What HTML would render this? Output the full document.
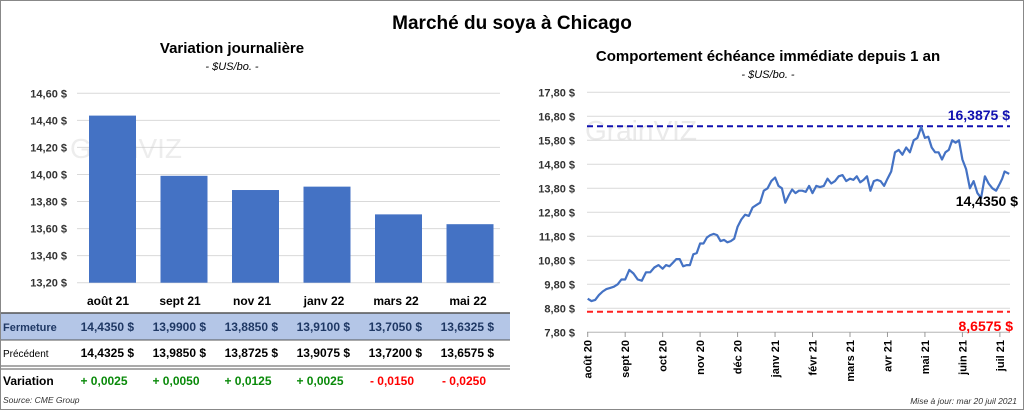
<!DOCTYPE html>
<html><head><meta charset="utf-8"><style>
body{margin:0;width:1024px;height:410px;overflow:hidden;background:#fff;font-family:"Liberation Sans",sans-serif;}
#frame{position:absolute;left:0;top:0;width:1022px;height:408px;border:1px solid #888;}
svg{position:absolute;left:0;top:0}
</style></head><body>
<div id="frame"></div>
<svg id="s" width="1024" height="410"></svg>
<script>
const barCats=["août 21","sept 21","nov 21","janv 22","mars 22","mai 22"];
const closeVals=[14.4350,13.9900,13.8850,13.9100,13.7050,13.6325];
const prevVals=[14.4325,13.9850,13.8725,13.9075,13.7200,13.6575];
const varVals=[0.0025,0.0050,0.0125,0.0025,-0.0150,-0.0250];
const barTicks=[13.2,13.4,13.6,13.8,14.0,14.2,14.4,14.6];
const monthLabels=["août 20","sept 20","oct 20","nov 20","déc 20","janv 21","févr 21","mars 21","avr 21","mai 21","juin 21","juil 21"];
const lineTicks=[7.8,8.8,9.8,10.8,11.8,12.8,13.8,14.8,15.8,16.8,17.8];
const monthlyPrices=[
[9.2,9.1,9.15,9.35,9.5,9.6,9.65,9.7,9.8,10.0],
[10.0,10.4,10.25,10.0,9.95,10.3,10.3,10.5,10.6],
[10.45,10.6,10.55,10.7,10.85,10.85,10.55,10.6,10.6,11.05,11.1],
[11.5,11.5,11.75,11.85,11.9,11.85,11.6,11.65,11.55,11.6,11.7],
[12.2,12.5,12.7,12.65,13.0,13.1,13.2,13.7,13.8,14.1],
[14.25,13.9,13.8,13.2,13.5,13.75,13.6,13.7,13.7,13.65,13.9],
[13.6,13.9,13.85,13.9,14.2,14.0,14.1,14.3,14.35,14.1],
[14.2,14.15,14.3,14.05,14.15,14.3,13.7,14.1,14.15,14.1,13.9],
[14.2,14.5,15.3,15.4,15.2,15.5,15.3,15.8,15.9,16.35],
[15.9,15.95,15.5,15.3,15.3,15.0,15.3,15.4,15.8,15.7,15.8],
[15.0,14.6,13.8,14.1,13.6,13.4,14.3,14.0,13.8,13.7],
[14.0,14.2,14.5,14.45,14.4]];
const monthCoverage=[1,1,1,1,1,1,1,1,1,1,1,0.25];
const highVal=16.3875, lowVal=8.6575, lastVal=14.4350;

const S=document.getElementById('s'),NS="http://www.w3.org/2000/svg";
function el(t,a,txt){const e=document.createElementNS(NS,t);for(const k in a)e.setAttribute(k,a[k]);if(txt!==undefined)e.textContent=txt;S.appendChild(e);return e;}
const fr=v=>v.toFixed(2).replace('.',',')+' $';
const f4=v=>v.toFixed(4).replace('.',',');

let e;
e=el('text',{x:512,y:29,'text-anchor':'middle','font-size':19,'font-weight':'bold'},'Marché du soya à Chicago');


e=el('text',{x:232,y:53,'text-anchor':'middle','font-size':15,'font-weight':'bold'},'Variation  journalière');


e=el('text',{x:232,y:70,'text-anchor':'middle','font-size':11,'font-style':'italic'},'- $US/bo. -');


e=el('text',{x:768,y:61,'text-anchor':'middle','font-size':15,'font-weight':'bold'},'Comportement  échéance immédiate depuis 1 an');


e=el('text',{x:768,y:78,'text-anchor':'middle','font-size':11,'font-style':'italic'},'- $US/bo. -');



// left bar chart
const by=v=>282.7-(v-13.2)*135.3;
const bx=i=>112.5+i*71.5;
barTicks.forEach(t=>{
 e=el('line',{x1:77,x2:500,y1:by(t),y2:by(t),stroke:'#d9d9d9'});
 
 
 e=el('text',{x:67,y:by(t)+4,'text-anchor':'end','font-size':11,'font-weight':'bold',fill:'#333'},fr(t));
 
 
});
e=el('text',{x:70,y:158,'font-size':28,fill:'#ccc','opacity':0.35},'GrainVIZ');


closeVals.forEach((v,i)=>{
 e=el('rect',{x:bx(i)-23.5,y:by(v),width:47,height:by(13.2)-by(v),fill:'#4472c4'});
 
 
});
// table
e=el('rect',{x:1,y:313,width:509,height:27,fill:'#b4c6e7'});


el('line',{x1:1,x2:510,y1:313,y2:313,stroke:'#555','stroke-width':1.5});
el('line',{x1:1,x2:510,y1:340,y2:340,stroke:'#555','stroke-width':1});
el('line',{x1:1,x2:510,y1:366,y2:366,stroke:'#555','stroke-width':1});
el('line',{x1:1,x2:510,y1:369,y2:369,stroke:'#555','stroke-width':1});
const tx=i=>108+i*72;
barCats.forEach((c,i)=>{
 e=el('text',{x:tx(i),y:305,'text-anchor':'middle','font-size':12,'font-weight':'bold'},c);
 
 
 e=el('text',{x:tx(i)+26,y:331,'text-anchor':'end','font-size':12,'font-weight':'bold',fill:'#1f3864'},f4(closeVals[i])+'  $');
 
 
 e=el('text',{x:tx(i)+26,y:357,'text-anchor':'end','font-size':12,'font-weight':'bold'},f4(prevVals[i])+'  $');
 
 
 const v=varVals[i];
 e=el('text',{x:tx(i)-4,y:385,'text-anchor':'middle','font-size':12,'font-weight':'bold',fill:v>=0?'#0a8a0a':'#ff0000'},(v>=0?'+ ':'- ')+f4(Math.abs(v)));
 
 
});
e=el('text',{x:3,y:331,'font-size':11,'font-weight':'bold',fill:'#1f3864'},'Fermeture');


e=el('text',{x:3,y:357,'font-size':10},'Précédent');


e=el('text',{x:3,y:385,'font-size':12,'font-weight':'bold'},'Variation');


e=el('text',{x:3,y:403,'font-size':8.5,'font-style':'italic',fill:'#333'},'Source: CME Group');



// right line chart
const ly=v=>332.3-(v-7.8)*24;
const mx=m=>587.7+m*37.47;
lineTicks.forEach(t=>{
 e=el('line',{x1:587,x2:1010,y1:ly(t),y2:ly(t),stroke:'#d9d9d9'});
 
 
 e=el('text',{x:575,y:ly(t)+4,'text-anchor':'end','font-size':11,'font-weight':'bold',fill:'#333'},fr(t));
 
 
});
el('line',{x1:587,x2:1010,y1:332.3,y2:332.3,stroke:'#bbb'});
e=el('text',{x:585,y:140,'font-size':28,fill:'#ccc','opacity':0.4},'GrainVIZ');


monthLabels.forEach((m,i)=>{
 el('line',{x1:mx(i),x2:mx(i),y1:332,y2:337,stroke:'#999'});
 e=el('text',{x:0,y:0,'text-anchor':'end','font-size':11,'font-weight':'bold',transform:`translate(${mx(i)+4},340) rotate(-90)`},m);
 
 
});
e=el('line',{x1:587,x2:1010,y1:ly(highVal),y2:ly(highVal),stroke:'#1010b0','stroke-width':2,'stroke-dasharray':'6,4'});


e=el('line',{x1:587,x2:1010,y1:ly(lowVal),y2:ly(lowVal),stroke:'#ff2020','stroke-width':2,'stroke-dasharray':'6,4'});


let pts=[];
monthlyPrices.forEach((arr,m)=>arr.forEach((v,j)=>{
 const last=m===monthlyPrices.length-1;
 const frac=last?j/(arr.length-1):j/arr.length;
 pts.push(mx(m+frac*monthCoverage[m]).toFixed(1)+','+ly(v).toFixed(1));
}));
e=el('polyline',{points:pts.join(' '),fill:'none',stroke:'#4472c4','stroke-width':2.2,'stroke-linejoin':'round'});


e=el('text',{x:1010,y:120,'text-anchor':'end','font-size':14,'font-weight':'bold',fill:'#1010b0'},f4(highVal)+'  $');


e=el('text',{x:1013,y:331,'text-anchor':'end','font-size':14,'font-weight':'bold',fill:'#ff0000'},f4(lowVal)+' $');


e=el('text',{x:1018,y:206,'text-anchor':'end','font-size':14,'font-weight':'bold'},f4(lastVal)+' $');


e=el('text',{x:1017,y:404,'text-anchor':'end','font-size':8.5,'font-style':'italic',fill:'#333'},'Mise à jour: mar 20 juil 2021');


</script>
</body></html>
